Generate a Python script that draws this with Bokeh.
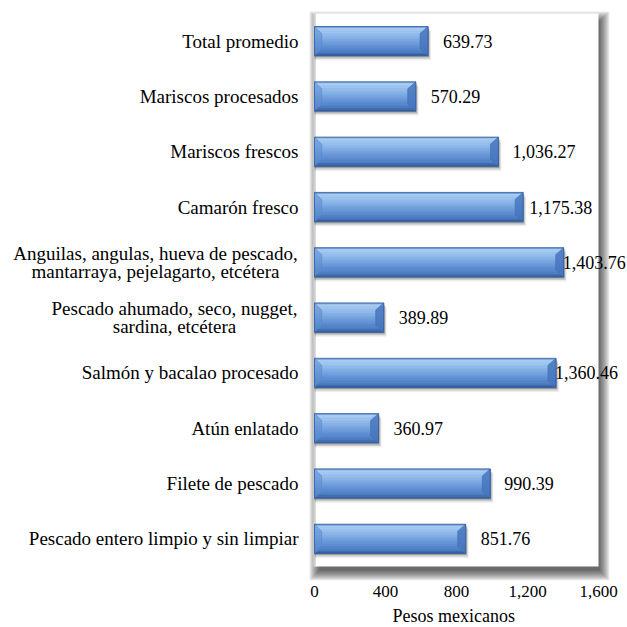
import numpy as np
from bokeh.plotting import figure
from bokeh.models import (ColumnDataSource, Range1d, FixedTicker, NumeralTickFormatter,
                          LabelSet, Title)
from bokeh.transform import dodge
from bokeh.embed import file_html
from bokeh.resources import INLINE

# ---------------- data ----------------
categories = [
    "Total promedio",
    "Mariscos procesados",
    "Mariscos frescos",
    "Camarón fresco",
    "Anguilas, angulas, hueva de pescado,\nmantarraya, pejelagarto, etcétera",
    "Pescado ahumado, seco, nugget,\nsardina, etcétera",
    "Salmón y bacalao procesado",
    "Atún enlatado",
    "Filete de pescado",
    "Pescado entero limpio y sin limpiar",
]
values = [639.73, 570.29, 1036.27, 1175.38, 1403.76, 389.89, 1360.46, 360.97, 990.39, 851.76]
x_ticks = [0, 400, 800, 1200, 1600]
x_title = "Pesos mexicanos"

# ---------------- style / layout ----------------
FONT = "Liberation Serif"
CANVAS_W = 627
FRAME_H = 580
AREA_LEFT, AREA_TOP, AREA_BOTTOM = 314, 13, 566   # px of plot area inside frame
AREA_W_PX = 284                  # plot-area width in px for 0..1600
X_MAX = 1600
UX = X_MAX / AREA_W_PX           # data units per px (x)
N = len(categories)
BAND_PX = (AREA_BOTTOM - AREA_TOP) / N
UY = 1.0 / BAND_PX               # data units per px (y)
BAR_H = 0.53
value_label_offsets = [15, 15, 14, 6, -1, 15, -1, 15, 14, 15]   # px, label placement
multiline_center_off = {4: -159, 5: -140}                      # px, label block centres
LINE_STEP = 18                                                  # px between label lines

y = list(range(N))
src = ColumnDataSource(dict(
    y=y, value=values,
    txt=[f"{v:,.2f}" for v in values],
    xoff=value_label_offsets,
))

top, bot = -0.5, N - 0.5
p = figure(frame_width=CANVAS_W, frame_height=FRAME_H,
           min_border_left=0, min_border_right=0, min_border_top=0, min_border_bottom=0,
           x_range=Range1d(-AREA_LEFT * UX, (CANVAS_W - AREA_LEFT) * UX),
           y_range=Range1d(bot + (FRAME_H - AREA_BOTTOM) * UY, top - AREA_TOP * UY),
           output_backend="svg", toolbar_location=None)
p.background_fill_color = "white"
p.border_fill_color = "white"
p.outline_line_color = None
p.grid.grid_line_color = None
p.yaxis.visible = False

xa = p.xaxis[0]
xa.ticker = FixedTicker(ticks=x_ticks)
xa.formatter = NumeralTickFormatter(format="0,0")
xa.axis_line_color = None
xa.major_tick_line_color = None
xa.major_tick_out = 0
xa.major_tick_in = 0
xa.minor_tick_line_color = None
xa.minor_tick_out = 0
xa.major_label_text_font = FONT
xa.major_label_text_font_size = "17px"
xa.major_label_text_color = "black"
xa.major_label_standoff = 5

# axis title, centred under the plot area
p.add_layout(Title(text=x_title, align="left", offset=392, standoff=9,
                   text_font=FONT, text_font_size="18px", text_font_style="normal",
                   text_color="black"), "below")

# ---------------- plot-area drop shadow ----------------
sx, sy = 3, 6
for e in range(8, -3, -1):
    p.quad(left=0 + (sx - e) * UX, right=X_MAX + (sx + e) * UX,
           top=top + (sy - e) * UY, bottom=bot + (sy + e) * UY,
           fill_color="black", fill_alpha=0.075, line_color=None)
p.quad(left=0, right=X_MAX, top=top, bottom=bot, fill_color="white", line_color=None)
# left axis line
p.segment(x0=0, x1=0, y0=top, y1=bot, line_color="#cfcfcf", line_width=2.5)

# ---------------- bar shadows ----------------
for dx, dy, a in [(1, 1.5, 0.22), (2, 3, 0.14), (3, 4.5, 0.07)]:
    p.hbar(y=dodge("y", dy * UY), left=0, right=dodge("value", dx * UX), height=BAR_H,
           source=src, fill_color="black", fill_alpha=a, line_color=None)

# ---------------- gradient bars ----------------
stops = [(0.0, "#5583c6"), (0.07, "#a9cdf4"), (0.3, "#8fbaed"), (0.6, "#6798dc"),
         (0.86, "#4b7dc5"), (1.0, "#2e5a9a")]
def hex2rgb(h):
    return np.array([int(h[i:i + 2], 16) for i in (1, 3, 5)], dtype=float)
pos = np.array([s[0] for s in stops])
cols = np.array([hex2rgb(s[1]) for s in stops])
NS = 18
for k in range(NS):
    t = (k + 0.5) / NS
    c = [int(round(np.interp(t, pos, cols[:, j]))) for j in range(3)]
    color = "#%02x%02x%02x" % tuple(c)
    off = -BAR_H / 2 + (k + 0.5) * BAR_H / NS
    p.hbar(y=dodge("y", off), left=0, right="value", height=BAR_H / NS * 1.15,
           source=src, fill_color=color, line_color=None)

# bevels (right and left end facets)
bw = 8 * UX
bh = 7 * UY
rx, ry, lx, ly = [], [], [], []
for yi, v in zip(y, values):
    t0, b0 = yi - BAR_H / 2, yi + BAR_H / 2
    rx.append([v, v - bw, v - bw, v]); ry.append([t0, t0 + bh, b0 - bh, b0])
    lx.append([0, bw * 0.9, bw * 0.9, 0]); ly.append([t0, t0 + bh, b0 - bh, b0])
p.patches(xs=rx, ys=ry, fill_color="#4676be", fill_alpha=0.85, line_color="#4070b4", line_width=0.6)
p.patches(xs=lx, ys=ly, fill_color="#5d8fd4", fill_alpha=0.6, line_color="#5585c8", line_width=0.5)
p.hbar(y="y", left=0, right="value", height=BAR_H, source=src,
       fill_color=None, line_color="#34609e", line_width=0.8)

# ---------------- value labels ----------------
p.add_layout(LabelSet(x="value", y="y", text="txt", x_offset="xoff", source=src,
                      text_font=FONT, text_font_size="18px", text_color="black",
                      text_align="left", text_baseline="middle"))

# ---------------- category labels ----------------
single = [i for i, c in enumerate(categories) if "\n" not in c]
s_src = ColumnDataSource(dict(x=[0] * len(single), y=[y[i] for i in single],
                              t=[categories[i] for i in single]))
mx, my, mt, mxo, myo = [], [], [], [], []
for i, c in enumerate(categories):
    if "\n" in c:
        lines = c.split("\n")
        n = len(lines)
        for j, line in enumerate(lines):
            mx.append(0); my.append(y[i]); mt.append(line)
            mxo.append(multiline_center_off[i])
            myo.append(((n - 1) / 2 - j) * LINE_STEP)
m_src = ColumnDataSource(dict(x=mx, y=my, t=mt, xo=mxo, yo=myo))
p.add_layout(LabelSet(x="x", y="y", text="t", x_offset=-16, source=s_src,
                      text_font=FONT, text_font_size="19px", text_color="black",
                      text_align="right", text_baseline="middle"))
p.add_layout(LabelSet(x="x", y="y", text="t", x_offset="xo", y_offset="yo", source=m_src,
                      text_font=FONT, text_font_size="19px", text_color="black",
                      text_align="center", text_baseline="middle"))

open("out.html", "w").write(file_html(p, INLINE))
